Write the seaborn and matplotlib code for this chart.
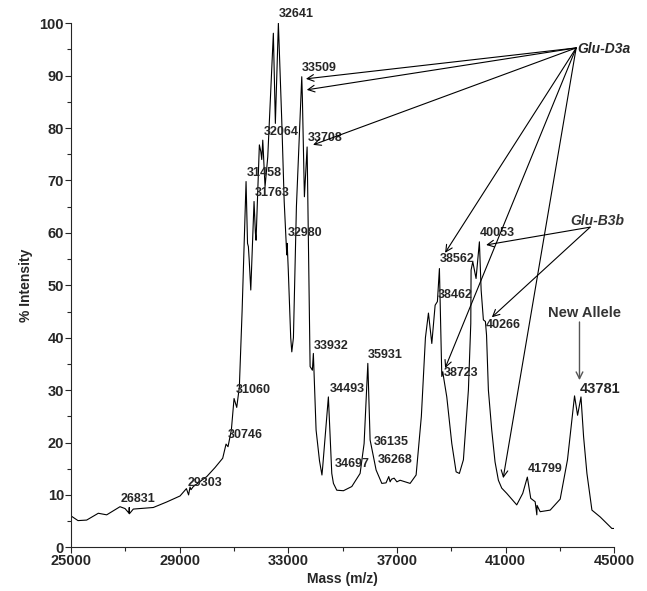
import numpy as np
import pandas as pd
import seaborn as sns
import matplotlib.pyplot as plt

sns.set_style("ticks")
plt.rcParams['font.family'] = ['Liberation Sans', 'DejaVu Sans']
plt.rcParams['font.weight'] = 'bold'

# spectrum trace (mass, % intensity)
mass = [25000, 25258, 25578, 26006, 26315, 26805, 26989, 27140, 27145, 27150,
        27295, 27541, 28031, 28523, 29015, 29199, 29250, 29330, 29383, 29420,
        29505, 29999, 30300, 30586, 30709, 30782, 30905, 31004, 31103, 31199,
        31300, 31446, 31500, 31531, 31560, 31620, 31740, 31790, 31814, 31936,
        31990, 32024, 32061, 32145, 32245, 32451, 32525, 32636, 32760, 32850,
        32944, 32960, 33000, 33090, 33130, 33190, 33300, 33497, 33520, 33594,
        33694, 33804, 33888, 33924, 34024, 34150, 34240, 34270, 34477, 34550,
        34602, 34663, 34786, 35031, 35339, 35645, 35792, 35929, 36013, 36113,
        36234, 36444, 36600, 36700, 36750, 36800, 36897, 37000, 37118, 37486,
        37707, 37900, 38050, 38161, 38285, 38407, 38491, 38565, 38653, 38690,
        38714, 38836, 39021, 39180, 39300, 39448, 39632, 39720, 39731, 39793,
        39914, 40037, 40101, 40184, 40258, 40300, 40368, 40491, 40613, 40736,
        40859, 41043, 41412, 41633, 41802, 41927, 42090, 42152, 42160, 42274,
        42643, 43011, 43280, 43444, 43540, 43652, 43777, 43873, 43996, 44180,
        44484, 44914, 45000]
intensity = [6.0, 5.1, 5.2, 6.5, 6.2, 7.75, 7.4, 6.5, 7.6, 6.4,
             7.3, 7.4, 7.6, 8.65, 9.8, 10.9, 11.2, 10.0, 11.5, 11.0,
             11.6, 13.5, 15.2, 17.0, 19.7, 19.2, 22.4, 28.4, 26.7, 30.6,
             45.0, 69.8, 58.0, 57.4, 55.0, 49.1, 66.0, 60.0, 58.6, 76.8,
             75.5, 74.0, 77.7, 68.8, 74.5, 98.1, 80.9, 100.0, 81.5, 66.0,
             55.8, 58.0, 53.0, 40.0, 37.3, 40.0, 65.0, 89.8, 85.7, 66.9,
             76.4, 34.5, 33.8, 37.0, 22.4, 16.5, 13.8, 15.5, 28.7, 20.0,
             14.1, 12.2, 10.9, 10.8, 11.6, 14.1, 19.8, 35.1, 20.5, 17.9,
             14.75, 12.2, 12.3, 13.5, 12.5, 13.0, 13.2, 12.5, 12.8, 12.2,
             13.8, 25.0, 40.0, 44.7, 38.9, 46.2, 46.9, 53.2, 32.6, 33.5,
             32.6, 28.7, 19.8, 14.4, 14.1, 16.7, 30.0, 42.7, 52.9, 54.5,
             51.3, 58.3, 49.1, 43.4, 43.1, 40.5, 30.0, 22.4, 16.3, 12.8,
             11.3, 10.3, 8.1, 10.3, 13.4, 9.35, 8.7, 6.2, 8.0, 6.8,
             7.1, 9.2, 16.7, 24.3, 28.9, 25.2, 28.7, 21.1, 14.1, 7.1,
             5.8, 3.6, 3.6]

x_ticks = [25000, 29000, 33000, 37000, 41000, 45000]
x_minor = [27000, 31000, 35000, 39000, 43000]

# peak labels: text, x, y (placement in data units)
peak_text = ['32641', '33509', '33708', '32064', '31458', '31763', '32980',
             '38562', '40053', '38462', '40266', '38723', '33932', '35931',
             '34493', '36135', '36268', '34697', '41799', '31060', '30746',
             '29303', '26831']
peak_x = [33287, 34134, 34355, 32734, 32108, 32403, 33618,
          39216, 40690, 39143, 40911, 39364, 34576, 36565,
          35165, 36786, 36933, 35349, 42457, 31703, 31408,
          29935, 27468]
peak_y = [101.8, 91.5, 78.1, 79.3, 71.4, 67.6, 60.0,
          55.0, 60.0, 48.1, 42.4, 33.3, 38.4, 36.7,
          30.2, 20.1, 16.7, 15.9, 14.9, 30.0, 21.4,
          12.3, 9.2]

# Glu-D3a arrows
d3a_origin = (43600, 95.3)
d3a_tips_x = [33650, 33681, 33913, 38775, 38775, 40912]
d3a_tips_y = [89.4, 87.3, 76.8, 56.2, 34.2, 13.2]
# Glu-B3b arrows
b3b_origin = (44116, 61.1)
b3b_tips_x = [40285, 40495]
b3b_tips_y = [57.7, 43.9]

df = pd.DataFrame({'mass': mass, 'intensity': intensity})

fig = plt.figure(figsize=(6.47, 5.91), dpi=100)
ax = fig.add_axes([0.1097, 0.0739, 0.8396, 0.8867])

sns.lineplot(data=df, x='mass', y='intensity', sort=False, estimator=None,
             color='black', lw=0.8, ax=ax)

ax.set_xlim(25000, 45000)
ax.set_ylim(0, 100)
ax.set_xticks(x_ticks)
ax.set_xticks(x_minor, minor=True)
ax.set_yticks(range(0, 101, 10))
ax.set_yticks(range(5, 100, 10), minor=True)
ax.tick_params(which='major', length=4, width=0.8, labelsize=10.5, pad=1)
ax.tick_params(which='minor', length=3, width=0.8)
for lab in ax.get_xticklabels() + ax.get_yticklabels():
    lab.set_fontweight('bold')
sns.despine(ax=ax)
ax.spines['left'].set_linewidth(0.8)
ax.spines['bottom'].set_linewidth(0.8)

ax.set_xlabel('Mass (m/z)', fontsize=10, fontweight='bold', labelpad=3)
ax.set_ylabel('% Intensity', fontsize=10, fontweight='bold', labelpad=5)

for t, x, y in zip(peak_text, peak_x, peak_y):
    ax.text(x, y, t, fontsize=9, fontweight='bold', ha='center', va='center',
            clip_on=False)

ax.text(44483, 30.2, '43781', fontsize=10.5, fontweight='bold',
        ha='center', va='center', clip_on=False)
ax.text(43894, 44.7, 'New Allele', fontsize=10.5, fontweight='bold',
        color='#333333', ha='center', va='center', clip_on=False)
ax.annotate('', xy=(43722, 31.9), xytext=(43722, 43.0),
            arrowprops=dict(arrowstyle='->', lw=1.0, color='#555555',
                            shrinkA=0, shrinkB=0, mutation_scale=12))

arrow_kw = dict(arrowstyle='->', lw=0.8, color='black',
                shrinkA=0, shrinkB=0, mutation_scale=12)
for tx, ty in zip(d3a_tips_x, d3a_tips_y):
    ax.annotate('', xy=(tx, ty), xytext=d3a_origin, arrowprops=arrow_kw,
                annotation_clip=False)
for tx, ty in zip(b3b_tips_x, b3b_tips_y):
    ax.annotate('', xy=(tx, ty), xytext=b3b_origin, arrowprops=arrow_kw,
                annotation_clip=False)

ax.text(43650, 95.1, 'Glu-D3a', fontsize=10, fontweight='bold',
        fontstyle='italic', ha='left', va='center', clip_on=False)
ax.text(44373, 62.2, 'Glu-B3b', fontsize=10, fontweight='bold',
        fontstyle='italic', color='#333333', ha='center', va='center',
        clip_on=False)

fig.savefig('out.png', dpi=100)
